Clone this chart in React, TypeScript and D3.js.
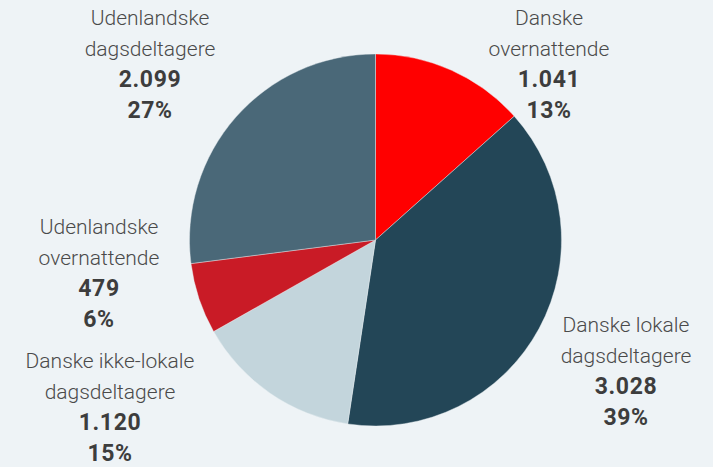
import React, { useEffect, useRef } from "react";
import * as d3 from "d3";

// data
const categories = [
  ["Danske", "overnattende"],
  ["Danske lokale", "dagsdeltagere"],
  ["Danske ikke-lokale", "dagsdeltagere"],
  ["Udenlandske", "overnattende"],
  ["Udenlandske", "dagsdeltagere"],
];
const values = [1041, 3028, 1120, 479, 2099];
const valueLabels = ["1.041", "3.028", "1.120", "479", "2.099"];
const percentLabels = ["13%", "39%", "15%", "6%", "27%"];

const colors = ["#ff0000", "#234657", "#c3d5dc", "#c91b26", "#4a6878"];
// label block centre x and first-line baseline
const labelPos = [
  { x: 549, y: 25 },
  { x: 626, y: 332 },
  { x: 110, y: 368 },
  { x: 99, y: 234 },
  { x: 150, y: 25 },
];

const App = () => {
  const svgRef = useRef(null);

  useEffect(() => {
    document.body.style.margin = "0";
    const svg = d3.select(svgRef.current);
    svg.selectAll("*").remove();

    const width = 713;
    const height = 467;
    const cx = 375.5;
    const cy = 240;
    const radius = 186;

    svg.attr("width", width).attr("height", height);

    svg.append("rect")
      .attr("width", width)
      .attr("height", height)
      .attr("fill", "#eef3f6");

    const pie = d3.pie().sort(null).value(d => d);
    const arc = d3.arc().innerRadius(0).outerRadius(radius);

    svg.append("g")
      .attr("transform", `translate(${cx},${cy})`)
      .selectAll("path")
      .data(pie(values))
      .enter()
      .append("path")
      .attr("d", arc)
      .attr("fill", (d, i) => colors[i])
      .attr("stroke", "#eef3f6")
      .attr("stroke-width", 0.4);

    // labels
    const lineH = 31;
    const labels = svg.append("g")
      .attr("font-family", "Roboto, 'Open Sans', sans-serif")
      .attr("text-anchor", "middle");

    categories.forEach((lines, i) => {
      const p = labelPos[i];
      const t = labels.append("text").attr("x", p.x).attr("y", p.y);
      lines.forEach((l, j) => {
        t.append("tspan")
          .attr("x", p.x)
          .attr("y", p.y + j * lineH)
          .attr("font-size", 21)
          .attr("font-weight", 300)
          .attr("fill", "#4a4a4a")
          .text(l);
      });
      [valueLabels[i], percentLabels[i]].forEach((s, j) => {
        t.append("tspan")
          .attr("x", p.x)
          .attr("y", p.y + (2 + j) * lineH)
          .attr("font-size", 23)
          .attr("font-weight", 700)
          .attr("letter-spacing", 0.6)
          .attr("fill", "#3d3d3d")
          .text(s);
      });
    });
  }, []);

  return <svg ref={svgRef} style={{ display: "block" }} />;
};

export default App;
